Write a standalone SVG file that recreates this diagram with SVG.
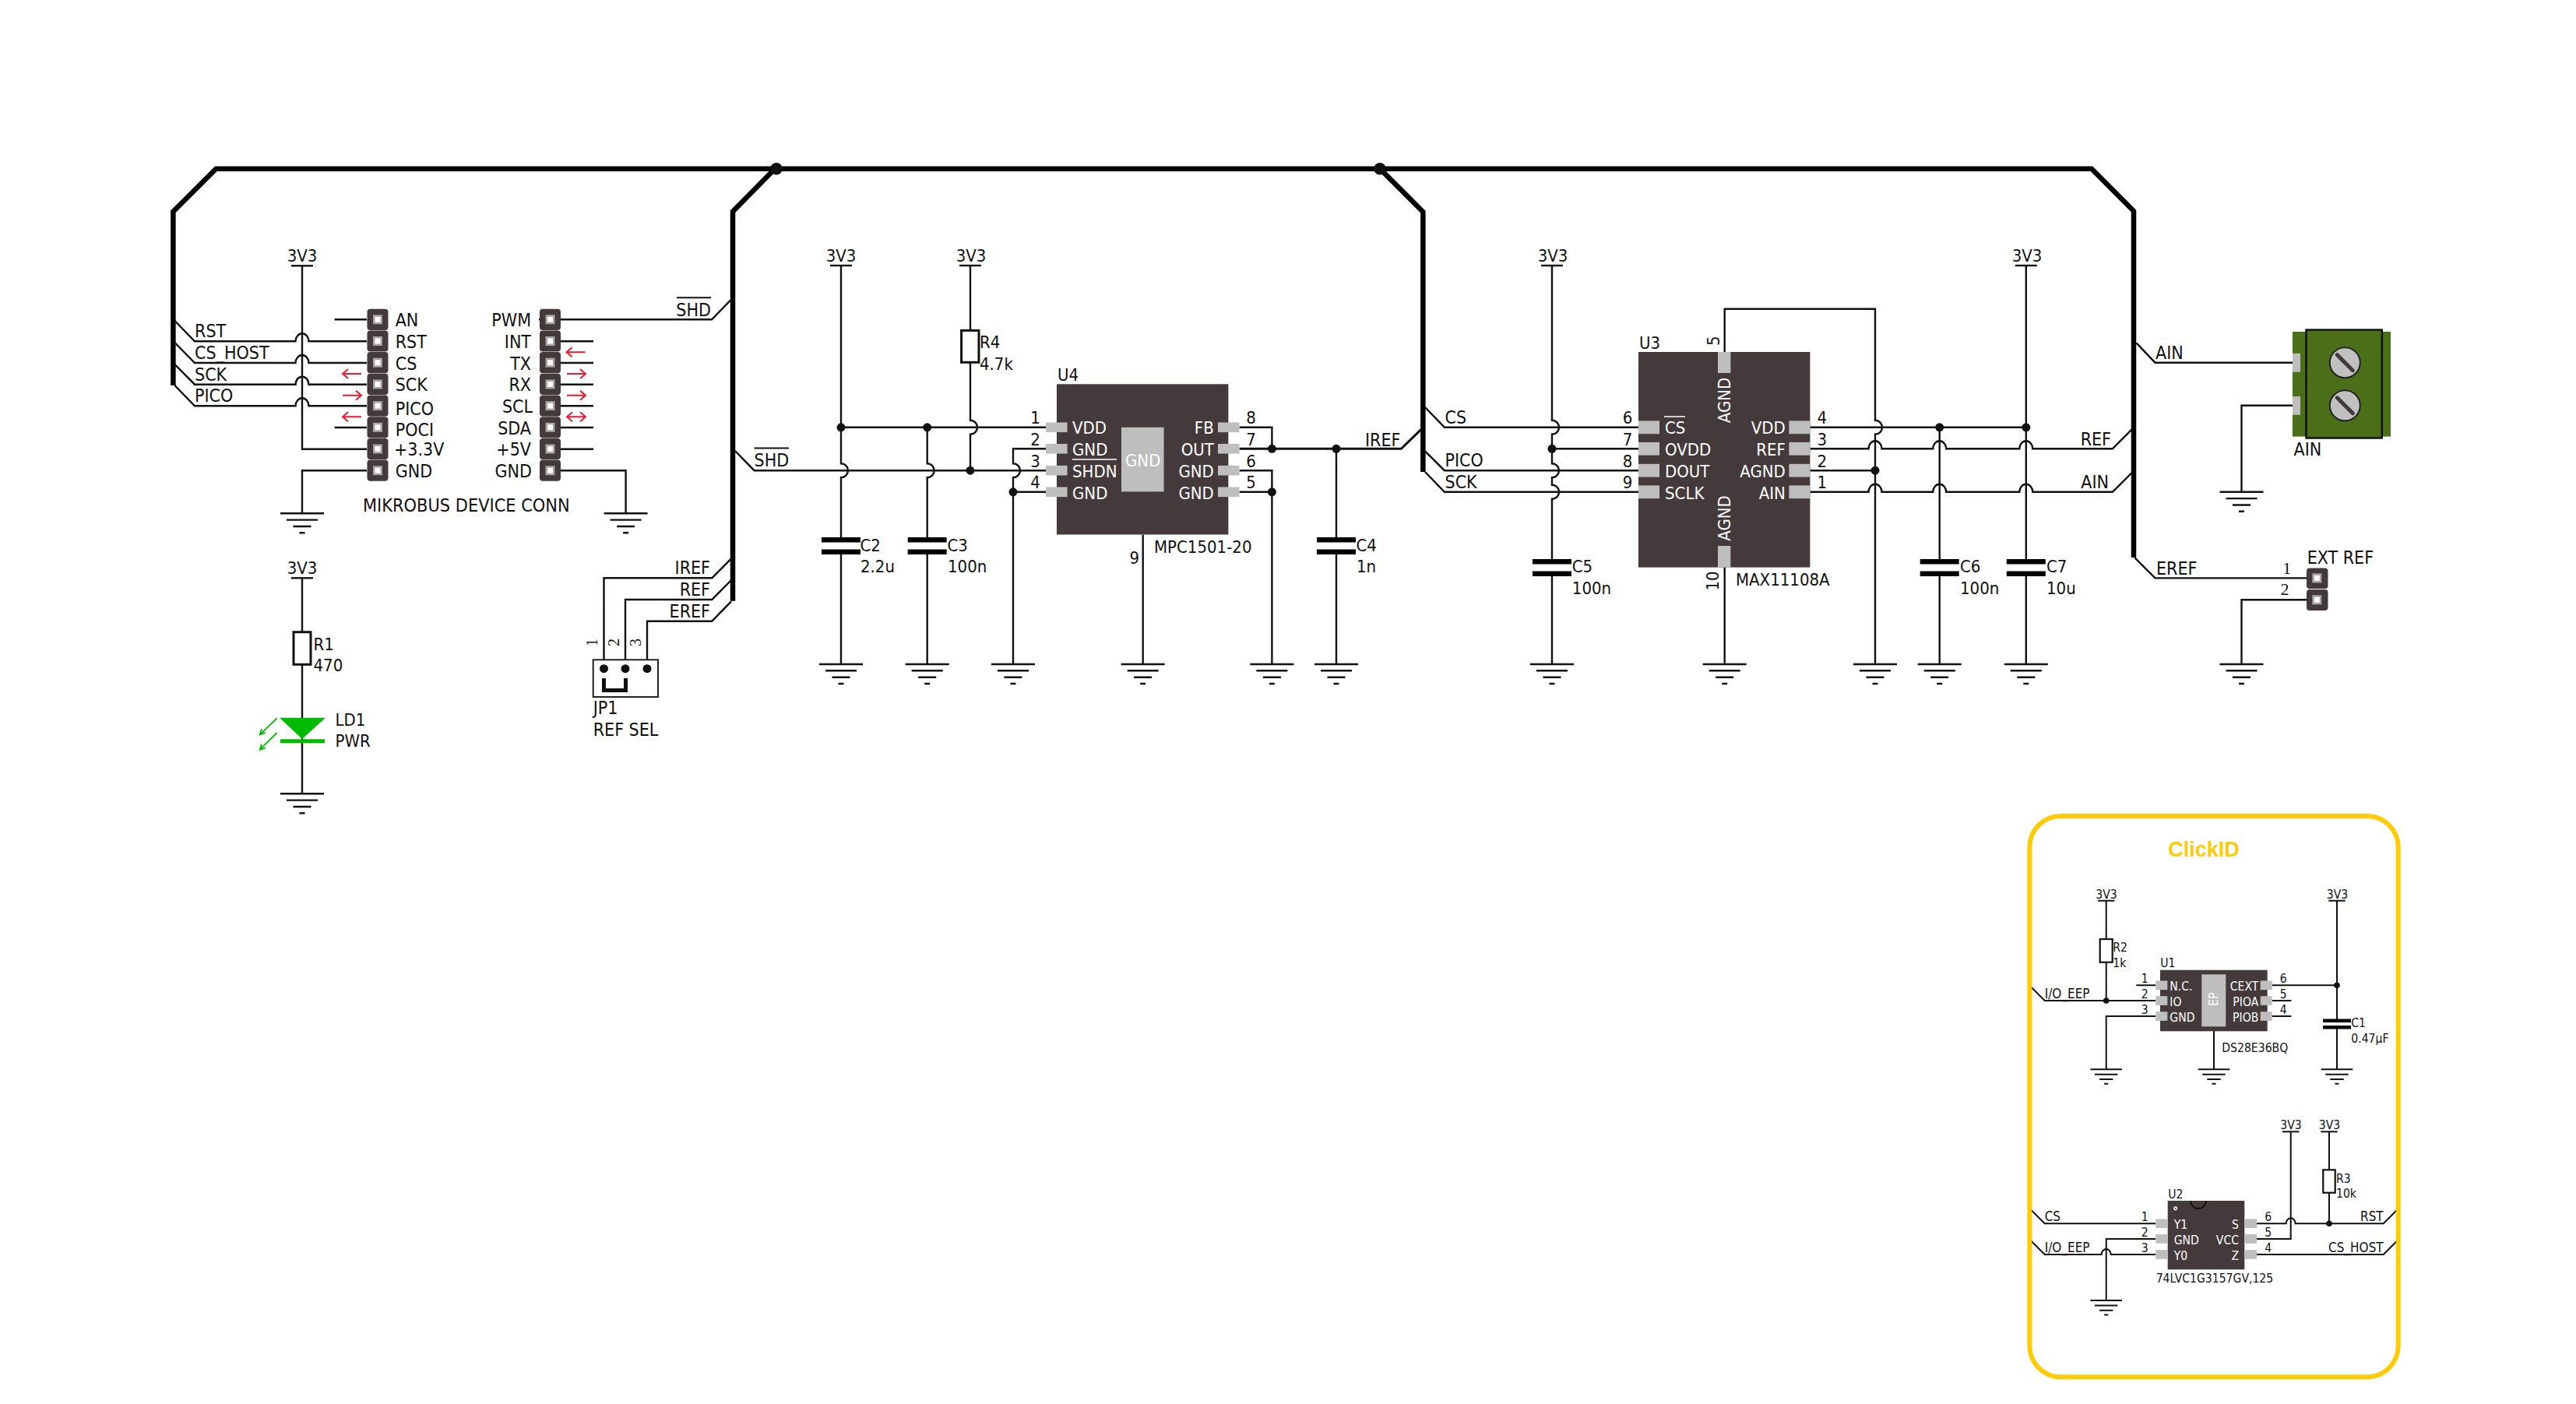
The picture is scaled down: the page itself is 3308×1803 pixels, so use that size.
<svg xmlns="http://www.w3.org/2000/svg" width="3308" height="1803" viewBox="0 0 3308 1803">
<style>
text{font-family:"DejaVu Sans Condensed","DejaVu Sans","Noto Sans",sans-serif;font-size:22px;fill:#111}
#mikrobus-left text,#mikrobus-right text,#net-labels text,#JP1 text,#EXT-REF text,#AIN-terminal text{font-size:23px}
#mikrobus-right #mb-title{font-size:23.300px}
#net-labels .s{font-size:17px}
.s{font-size:15.600px}
.w{fill:#fff}
.e{text-anchor:end}
.m{text-anchor:middle}
.n{font-family:"Liberation Serif",serif}
.l{fill:none;stroke:#111;stroke-width:2.4}
.k{fill:none;stroke:#111;stroke-width:2}
.b{fill:none;stroke:#000;stroke-width:6.5;stroke-linejoin:miter}
.a{fill:none;stroke:#ed1c2e;stroke-width:2}
.c{fill:#443a3b}
.p{fill:#bebebe}
.r{fill:#fff;stroke:#111;stroke-width:3}
.ck{font-family:"Liberation Sans",sans-serif;font-weight:bold;font-size:27px;fill:#ffcb05}
</style>
<defs>
<g id="gnd" class="l"><path d="M-28 0H28M-20 8.300H20M-11.500 16.700H11.500M-3.500 25H3.500"/></g>
<g id="gs" class="k"><path d="M-20.300 0H20.300M-14.700 6.500H14.700M-8.700 12.700H8.700M-2.500 18.500H2.500"/></g>
<path id="pw" class="l" d="M-14 0H14"/>
<path id="ps" class="k" d="M-10.700 0H10.700"/>
<circle id="j" r="5.500" fill="#111"/>
<circle id="js" r="3.800" fill="#111"/>
<g id="cap"><rect x="-25" y="-5" width="50" height="10" fill="#fff"/><rect x="-25" y="-11" width="50" height="6.500" fill="#000"/><rect x="-25" y="4.500" width="50" height="6.500" fill="#000"/></g>
<g id="caps"><rect x="-18" y="-4" width="36" height="8" fill="#fff"/><rect x="-18" y="-6.500" width="36" height="4.500" fill="#000"/><rect x="-18" y="2" width="36" height="4.500" fill="#000"/></g>
<g id="hp"><rect x="-13.500" y="-13.600" width="27" height="27.200" rx="4" class="c"/><rect x="-6" y="-6" width="12" height="12" fill="#a8a4a4"/><rect x="-3.500" y="-3.500" width="7" height="7" fill="#fff"/></g>
<path id="ar" class="a" d="M-12 0H12M-5 -6L-12 0L-5 6"/>
<path id="al" class="a" d="M-12 0H12M5 -6L12 0L5 6"/>
</defs>

<g id="connectors">
<g id="buses" class="b">
<path d="M222.400 495V271.700L277.500 216.700H2686L2740 271V716"/>
<path d="M995 216.700L941 271.700V771.700"/>
<path d="M1772 216.700L1827.400 272V606"/>
</g>
<use href="#j" x="997" y="216.700" transform="translate(997 216.700) scale(1.400) translate(-997 -216.700)"/>
<use href="#j" x="1772" y="216.700" transform="translate(1772 216.700) scale(1.400) translate(-1772 -216.700)"/>
<g class="l">
<path d="M224.500 412L250 438.300H379.500a8.500 10 0 0 1 17 0H471"/>
<path d="M224.500 440L250 466H379.500a8.500 10 0 0 1 17 0H471"/>
<path d="M224.500 468L250 493.700H379.500a8.500 10 0 0 1 17 0H471"/>
<path d="M224.500 495L250 521.300H379.500a8.500 10 0 0 1 17 0H471"/>
<path d="M429.600 410.300H471M429.600 549H471"/>
<path d="M388 341.300V576.700H471M471 604.300H388V659.300"/>
<path d="M692 410.300H914L938 385.700"/>
<path d="M720 438.300H762M720 466H762M720 493.700H762M720 521.300H762M720 549H762M720 576.700H762"/>
<path d="M720 604.300H803.600V659.300"/>
<path d="M388 742.300V1019.300"/>
<path d="M775.500 858V742.300H914.300L939 717.300M803 858V770H914.300L939 745M831 858V797.700H914.300L939 772.300"/>
<path d="M1080 341V595.200a9 9 0 0 1 0 18V853"/>
<path d="M1190.700 548.800V595.200a9 9 0 0 1 0 18V853"/>
<path d="M1080 548.800H1343"/>
<path d="M1246 341V539.800a9 9 0 0 1 0 18V604.200"/>
<path d="M944 579L968.500 604.200H1343"/>
<path d="M1343 576.300H1301V595.200a9 9 0 0 1 0 18V853M1301 631.800H1343"/>
<path d="M1467.700 686.500V853"/>
<path d="M1591.600 548.800H1633.400V576.300M1591.600 604.200H1633.400V853M1591.600 631.800H1633.400M1716 576.300V853"/>
<path d="M1591.600 576.300H1799.400L1825 551.400" stroke-width="3"/>
<path d="M1830 523L1855 548.800H2104M1830 579.400L1855 604.200H2104M1830 606L1855 631.800H2104M1993 576.300H2104"/>
<path d="M1993 341V539.800a9 9 0 0 1 0 18V595.200a9 9 0 0 1 0 18V622.800a9 9 0 0 1 0 18V853"/>
<path d="M2214.700 452V396.800H2408V539.800a9 9 0 0 1 0 18V853M2214.700 728.600V853"/>
<path d="M2324.400 548.800H2601.800M2324.400 604.200H2408"/>
<path d="M2324.400 576.300H2399.500a8.500 10 0 0 1 17 0H2482.200a8.500 10 0 0 1 17 0H2593.300a8.500 10 0 0 1 17 0H2712.800L2737.700 551.400"/>
<path d="M2324.400 631.800H2399.500a8.500 10 0 0 1 17 0H2482.200a8.500 10 0 0 1 17 0H2593.300a8.500 10 0 0 1 17 0H2712.800L2737.700 607"/>
<path d="M2490.700 548.800V853M2601.800 341V853"/>
<path d="M2743.400 440.400L2767.500 465.700H2944M2944 520.800H2878.500V631.800"/>
<path d="M2741.500 716.400L2767.500 742.400H2962M2962 770.300H2878.500V853"/>
</g>
<path d="M1467.700 631.400V686.500" fill="none" stroke="#bebebe" stroke-width="2.400"/>
<g class="k">
<path d="M2605.700 1265L2625.700 1285H2768.300M2704.700 1156.700V1285M2768.300 1265.300H2743.300M2768.300 1305H2704.700V1373.300M2843 1324V1373.300"/>
<path d="M2917.700 1265.300H3001M3001 1156.700V1373.300M2917.700 1285H2942.300M2917.700 1305H2942.300"/>
<path d="M2605.700 1551.300L2625.700 1571.300H2768.300"/>
<path d="M2605.700 1591L2625.700 1611H2698.700a6 7 0 0 1 12 0H2768.300M2768.300 1591H2704.700V1670"/>
<path d="M2898 1571.300H2935.700a6 7 0 0 1 12 0H3060.700L3080.700 1551.300M2941.700 1453.300V1591H2898M2991 1453.300V1571.300"/>
<path d="M2898 1611H3060.700L3080.700 1591"/>
</g>
<g id="junctions">
<use href="#j" x="1080" y="548.800"/><use href="#j" x="1190.700" y="548.800"/><use href="#j" x="1246" y="604.200"/><use href="#j" x="1301" y="631.800"/><use href="#j" x="1633.400" y="576.300"/><use href="#j" x="1633.400" y="631.800"/><use href="#j" x="1716" y="576.300"/><use href="#j" x="1993" y="576.300"/><use href="#j" x="2408" y="604.200"/><use href="#j" x="2490.700" y="548.800"/><use href="#j" x="2601.800" y="548.800"/>
<use href="#js" x="2704.700" y="1285"/><use href="#js" x="3001" y="1265.300"/><use href="#js" x="2991" y="1571.300"/>
</g>
<g id="net-labels">
<text x="250" y="433">RST</text><text x="250" y="461">CS_HOST</text><text x="250" y="488.700">SCK</text><text x="250" y="516">PICO</text>
<text x="913" y="406" class="e">SHD</text><path class="k" d="M869 382.300H913"/>
<text x="968.500" y="599">SHD</text><path class="k" d="M968.500 575.600H1013"/>
<text x="912" y="737.300" class="e">IREF</text><text x="912" y="765" class="e">REF</text><text x="912" y="792.700" class="e">EREF</text>
<text x="1753" y="573">IREF</text>
<text x="1855.500" y="543.800">CS</text><text x="1855.500" y="599">PICO</text><text x="1855.500" y="627">SCK</text>
<text x="2711" y="571.700" class="e">REF</text><text x="2708" y="627" class="e">AIN</text>
<text x="2768" y="460.700">AIN</text><text x="2769" y="738">EREF</text>
<text x="2625.700" y="1281.700" class="s">I/O_EEP</text><text x="2625.700" y="1568" class="s">CS</text><text x="2625.700" y="1608.300" class="s">I/O_EEP</text>
<text x="3060.700" y="1568" class="s e">RST</text><text x="3060.700" y="1608.300" class="s e">CS_HOST</text>
</g>
</g>

<g id="pwr-gnd">
<use href="#pw" x="388" y="341.300"/><text x="388" y="336" class="m">3V3</text>
<use href="#pw" x="388" y="742.300"/><text x="388" y="737" class="m">3V3</text>
<use href="#pw" x="1080" y="341"/><text x="1080" y="336" class="m">3V3</text>
<use href="#pw" x="1246" y="341"/><text x="1247" y="336" class="m">3V3</text>
<use href="#pw" x="1993" y="341"/><text x="1994" y="336" class="m">3V3</text>
<use href="#pw" x="2601.800" y="341"/><text x="2603" y="336" class="m">3V3</text>
<use href="#gnd" x="388" y="659.300"/><use href="#gnd" x="803.600" y="659.300"/><use href="#gnd" x="388" y="1019.300"/>
<use href="#gnd" x="1080" y="853"/><use href="#gnd" x="1190.700" y="853"/><use href="#gnd" x="1301" y="853"/><use href="#gnd" x="1467.700" y="853"/><use href="#gnd" x="1633.400" y="853"/><use href="#gnd" x="1716" y="853"/>
<use href="#gnd" x="1993" y="853"/><use href="#gnd" x="2214.700" y="853"/><use href="#gnd" x="2408" y="853"/><use href="#gnd" x="2490.700" y="853"/><use href="#gnd" x="2601.800" y="853"/>
<use href="#gnd" x="2878.500" y="631.800"/><use href="#gnd" x="2878.500" y="853"/>
<use href="#ps" x="2704.700" y="1156.700"/><text x="2705" y="1154" class="s m">3V3</text>
<use href="#ps" x="3001" y="1156.700"/><text x="3001.500" y="1154" class="s m">3V3</text>
<use href="#ps" x="2941.700" y="1453.300"/><text x="2942" y="1450" class="s m">3V3</text>
<use href="#ps" x="2991" y="1453.300"/><text x="2991.500" y="1450" class="s m">3V3</text>
<use href="#gs" x="2704.700" y="1373.300"/><use href="#gs" x="2843" y="1373.300"/><use href="#gs" x="3001" y="1373.300"/><use href="#gs" x="2704.700" y="1670"/>
</g>

<g id="mikrobus-left">
<use href="#hp" x="485" y="410.300"/><use href="#hp" x="485" y="438"/><use href="#hp" x="485" y="465.700"/><use href="#hp" x="485" y="493.400"/><use href="#hp" x="485" y="521.100"/><use href="#hp" x="485" y="548.800"/><use href="#hp" x="485" y="576.500"/><use href="#hp" x="485" y="604.200"/>
<text x="507.700" y="419.300">AN</text><text x="507.700" y="447">RST</text><text x="507.700" y="474.700">CS</text><text x="507.700" y="502">SCK</text><text x="507.700" y="532.700">PICO</text><text x="507.700" y="560.300">POCI</text><text x="506" y="585">+3.3V</text><text x="507.700" y="612.700">GND</text>
<use href="#ar" x="452" y="480"/><use href="#al" x="452" y="507.700"/><use href="#ar" x="452" y="535.300"/>
</g>
<g id="mikrobus-right">
<use href="#hp" x="706.500" y="410.300"/><use href="#hp" x="706.500" y="438"/><use href="#hp" x="706.500" y="465.700"/><use href="#hp" x="706.500" y="493.400"/><use href="#hp" x="706.500" y="521.100"/><use href="#hp" x="706.500" y="548.800"/><use href="#hp" x="706.500" y="576.500"/><use href="#hp" x="706.500" y="604.200"/>
<text x="682" y="419.300" class="e">PWM</text><text x="682" y="447" class="e">INT</text><text x="682" y="474.700" class="e">TX</text><text x="682" y="502" class="e">RX</text><text x="684" y="530" class="e">SCL</text><text x="682" y="557.700" class="e">SDA</text><text x="682" y="585" class="e">+5V</text><text x="683" y="612.700" class="e">GND</text>
<use href="#ar" x="739.500" y="452.300"/><use href="#al" x="740" y="480"/><use href="#al" x="740" y="507.700"/>
<path class="a" d="M728 535.300H752M735 529.300L728 535.300L735 541.300M745 529.300L752 535.300L745 541.300"/>
<text id="mb-title" x="466" y="657">MIKROBUS DEVICE CONN</text>
</g>

<g id="R1"><rect class="r" x="377" y="811.700" width="22" height="41.600"/><text x="402.500" y="834.700">R1</text><text x="402.500" y="861.700">470</text></g>
<g id="LD1">
<path d="M359 921.700H418L388 949Z" fill="#00bb00"/><rect x="360" y="949.300" width="57" height="5" fill="#00bb00"/>
<path d="M355.600 922.300L333.700 943.300M341 941L333.700 943.300L336 936M355.600 941L333.700 962.700M341 960.500L333.700 962.700L336 955.500" fill="none" stroke="#00bb00" stroke-width="1.800"/>
<text x="430.600" y="931.700">LD1</text><text x="430.600" y="959">PWR</text>
</g>
<g id="JP1">
<rect x="761.700" y="847.300" width="83.300" height="47.700" fill="#fff" stroke="#222" stroke-width="2"/>
<ellipse cx="775.500" cy="858.700" rx="5.500" ry="5.500" fill="#111"/><ellipse cx="803" cy="858.700" rx="5.500" ry="5.500" fill="#111"/><ellipse cx="831" cy="858.700" rx="5.500" ry="5.500" fill="#111"/>
<path d="M775.500 871V886.500H803.500V871" fill="none" stroke="#111" stroke-width="5"/>
<text class="n m" transform="translate(767 825) rotate(-90)" style="font-size:20px">1</text><text class="n m" style="font-size:20px" transform="translate(795 825) rotate(-90)">2</text><text class="n m" style="font-size:20px" transform="translate(823 825) rotate(-90)">3</text>
<text x="761.700" y="917">JP1</text><text x="761.700" y="945">REF SEL</text>
</g>
<g id="C2"><use href="#cap" x="1080" y="701"/><text x="1104.500" y="707.600">C2</text><text x="1105" y="735">2.2u</text></g>
<g id="C3"><use href="#cap" x="1190.700" y="701"/><text x="1216.500" y="707.600">C3</text><text x="1217" y="735">100n</text></g>
<g id="R4"><rect class="r" x="1234.600" y="424.400" width="22.400" height="40.900"/><text x="1258" y="447.300">R4</text><text x="1258" y="475">4.7k</text></g>
<g id="C4"><use href="#cap" x="1716" y="701"/><text x="1741.500" y="707.600">C4</text><text x="1742" y="735">1n</text></g>
<g id="U4">
<rect class="c" x="1357" y="493.300" width="220.400" height="193.200"/>
<rect class="p" x="1343" y="542.500" width="27.600" height="12.600"/><rect class="p" x="1343" y="570" width="27.600" height="12.600"/><rect class="p" x="1343" y="597.900" width="27.600" height="12.600"/><rect class="p" x="1343" y="625.500" width="27.600" height="12.600"/>
<rect class="p" x="1564" y="542.500" width="27.600" height="12.600"/><rect class="p" x="1564" y="570" width="27.600" height="12.600"/><rect class="p" x="1564" y="597.900" width="27.600" height="12.600"/><rect class="p" x="1564" y="625.500" width="27.600" height="12.600"/>
<rect class="p" x="1440" y="548.800" width="54.600" height="82.600"/>
<text x="1467.700" y="599" class="w m">GND</text>
<text x="1377" y="557" class="w">VDD</text><text x="1377" y="585" class="w">GND</text><text x="1377" y="613" class="w">SHDN</text><text x="1377" y="640.600" class="w">GND</text>
<path d="M1377 590H1434" stroke="#fff" stroke-width="1.500"/>
<text x="1558.800" y="557" class="w e">FB</text><text x="1558.800" y="585" class="w e">OUT</text><text x="1558.800" y="613" class="w e">GND</text><text x="1558.800" y="640.600" class="w e">GND</text>
<text x="1329.500" y="544" class="m">1</text><text x="1329.500" y="571.700" class="m">2</text><text x="1329.500" y="599.700" class="m">3</text><text x="1329.500" y="627" class="m">4</text>
<text x="1606.500" y="544" class="m">8</text><text x="1606.500" y="571.700" class="m">7</text><text x="1606.500" y="599.700" class="m">6</text><text x="1606.500" y="627" class="m">5</text>
<text x="1456.700" y="724" class="m">9</text>
<text x="1358" y="488.700">U4</text><text x="1482" y="710">MPC1501-20</text>
</g>
<g id="C5"><use href="#cap" x="1993" y="729"/><text x="2018.800" y="735">C5</text><text x="2018.800" y="763">100n</text></g>
<g id="U3">
<rect class="c" x="2104" y="452" width="220.400" height="276.600"/>
<rect class="p" x="2104" y="540.400" width="27" height="16.800"/><rect class="p" x="2104" y="567.900" width="27" height="16.800"/><rect class="p" x="2104" y="595.800" width="27" height="16.800"/><rect class="p" x="2104" y="623.400" width="27" height="16.800"/>
<rect class="p" x="2297.400" y="540.400" width="27" height="16.800"/><rect class="p" x="2297.400" y="567.900" width="27" height="16.800"/><rect class="p" x="2297.400" y="595.800" width="27" height="16.800"/><rect class="p" x="2297.400" y="623.400" width="27" height="16.800"/>
<rect class="p" x="2206" y="452" width="16.400" height="27"/><rect class="p" x="2206" y="701" width="16.400" height="27.600"/>
<text class="w m" transform="translate(2221.500 514) rotate(-90)">AGND</text><text class="w m" transform="translate(2221.500 665.500) rotate(-90)">AGND</text>
<text x="2138" y="557" class="w">CS</text><path d="M2137 535H2164" stroke="#fff" stroke-width="1.500"/><text x="2138" y="585" class="w">OVDD</text><text x="2138" y="613" class="w">DOUT</text><text x="2138" y="640.600" class="w">SCLK</text>
<text x="2292.800" y="557" class="w e">VDD</text><text x="2292.800" y="585" class="w e">REF</text><text x="2292.800" y="613" class="w e">AGND</text><text x="2292.800" y="640.600" class="w e">AIN</text>
<text x="2090" y="544" class="m">6</text><text x="2090" y="571.700" class="m">7</text><text x="2090" y="599.700" class="m">8</text><text x="2090" y="627" class="m">9</text>
<text x="2339.700" y="544" class="m">4</text><text x="2339.700" y="571.700" class="m">3</text><text x="2339.700" y="599.700" class="m">2</text><text x="2339.700" y="627" class="m">1</text>
<text class="m" transform="translate(2208 437.800) rotate(-90)">5</text><text class="m" transform="translate(2207 746) rotate(-90)">10</text>
<text x="2105" y="447.700">U3</text><text x="2229" y="751.600">MAX11108A</text>
</g>
<g id="C6"><use href="#cap" x="2490.700" y="729"/><text x="2517" y="735">C6</text><text x="2517" y="763">100n</text></g>
<g id="C7"><use href="#cap" x="2601.800" y="729"/><text x="2628" y="735">C7</text><text x="2628" y="763">10u</text></g>
<g id="AIN-terminal">
<rect x="2944" y="426" width="126" height="134.600" fill="#4b6e18"/>
<rect x="2961.500" y="423.600" width="97.300" height="138.900" fill="#4b6e18" stroke="#111" stroke-width="2.500"/>
<rect class="p" x="2944" y="453.800" width="10" height="23.800"/><rect class="p" x="2944" y="509" width="10" height="23.800"/>
<circle cx="3011.300" cy="465.700" r="19.500" fill="#c0c0c0" stroke="#222" stroke-width="2"/><circle cx="3011.300" cy="520.800" r="19.500" fill="#c0c0c0" stroke="#222" stroke-width="2"/>
<path d="M3001.300 455.700L3021.300 475.700M3001.300 510.800L3021.300 530.800" stroke="#443a3b" stroke-width="5" stroke-linecap="round"/>
<text x="2945.500" y="585">AIN</text>
</g>
<g id="EXT-REF">
<rect class="c" x="2962" y="729.400" width="27.500" height="26.600" rx="4"/><rect class="c" x="2962" y="757" width="27.500" height="27" rx="4"/>
<rect x="2969.300" y="736.400" width="12" height="12" fill="#a8a4a4"/><rect x="2971.800" y="738.900" width="7" height="7" fill="#fff"/>
<rect x="2969.300" y="764.300" width="12" height="12" fill="#a8a4a4"/><rect x="2971.800" y="766.800" width="7" height="7" fill="#fff"/>
<text x="2962.700" y="724">EXT REF</text>
<text x="2936.700" y="737" class="n m" style="font-size:22px">1</text><text x="2934" y="764" class="n m" style="font-size:22px">2</text>
</g>

<g id="ClickID">
<rect x="2606.300" y="1048" width="473.400" height="720.300" rx="40" fill="none" stroke="#ffcb05" stroke-width="6"/>
<text x="2830" y="1100" class="ck m">ClickID</text>
</g>
<g id="R2"><rect x="2696.700" y="1206" width="16" height="29.700" fill="#fff" stroke="#111" stroke-width="2.200"/><text x="2713.300" y="1222" class="s">R2</text><text x="2713.300" y="1242" class="s">1k</text></g>
<g id="U1">
<rect class="c" x="2774" y="1245.700" width="137.700" height="78.600"/>
<rect class="p" x="2768.300" y="1259.400" width="15" height="11.700"/><rect class="p" x="2768.300" y="1279.200" width="15" height="11.700"/><rect class="p" x="2768.300" y="1299.200" width="15" height="11.700"/>
<rect class="p" x="2902.700" y="1259.400" width="15" height="11.700"/><rect class="p" x="2902.700" y="1279.200" width="15" height="11.700"/><rect class="p" x="2902.700" y="1299.200" width="15" height="11.700"/>
<rect class="p" x="2827.300" y="1251.300" width="31" height="67"/>
<text class="s w m" transform="translate(2848 1283) rotate(-90)">EP</text>
<text x="2786.300" y="1271.700" class="s w">N.C.</text><text x="2786.300" y="1291.700" class="s w">IO</text><text x="2786.300" y="1311.700" class="s w">GND</text>
<text x="2900.300" y="1271.700" class="s w e">CEXT</text><text x="2900.300" y="1291.700" class="s w e">PIOA</text><text x="2900.300" y="1311.700" class="s w e">PIOB</text>
<text x="2754.300" y="1262.300" class="s m">1</text><text x="2754.300" y="1282.300" class="s m">2</text><text x="2754.300" y="1301.700" class="s m">3</text>
<text x="2932.300" y="1262.300" class="s m">6</text><text x="2932.300" y="1282.300" class="s m">5</text><text x="2932.300" y="1301.700" class="s m">4</text>
<text x="2774.300" y="1242" class="s">U1</text><text x="2853.300" y="1350.700" class="s">DS28E36BQ</text>
</g>
<g id="C1"><use href="#caps" x="3001" y="1315"/><text x="3019.300" y="1319.300" class="s">C1</text><text x="3019.300" y="1339" class="s">0.47µF</text></g>
<g id="U2">
<rect class="c" x="2783.700" y="1542" width="98.600" height="88.300"/>
<rect class="p" x="2768.300" y="1565.400" width="15.400" height="11.700"/><rect class="p" x="2768.300" y="1585.100" width="15.400" height="11.700"/><rect class="p" x="2768.300" y="1605.100" width="15.400" height="11.700"/>
<rect class="p" x="2882.300" y="1565.400" width="15.700" height="11.700"/><rect class="p" x="2882.300" y="1585.100" width="15.700" height="11.700"/><rect class="p" x="2882.300" y="1605.100" width="15.700" height="11.700"/>
<circle cx="2793.700" cy="1551.700" r="1.800" fill="#443a3b" stroke="#fff" stroke-width="1.500"/>
<path d="M2813 1542a10 10 0 0 0 20 0" fill="none" stroke="#111" stroke-width="1.800"/>
<text x="2791.700" y="1578.300" class="s w">Y1</text><text x="2791.700" y="1598.300" class="s w">GND</text><text x="2791.700" y="1617.700" class="s w">Y0</text>
<text x="2875" y="1578.300" class="s w e">S</text><text x="2875" y="1598.300" class="s w e">VCC</text><text x="2875" y="1617.700" class="s w e">Z</text>
<text x="2754.300" y="1568" class="s m">1</text><text x="2754.300" y="1588" class="s m">2</text><text x="2754.300" y="1607.700" class="s m">3</text>
<text x="2912.700" y="1568" class="s m">6</text><text x="2912.700" y="1588" class="s m">5</text><text x="2912.700" y="1607.700" class="s m">4</text>
<text x="2784.300" y="1539" class="s">U2</text><text x="2768.700" y="1646.700" class="s">74LVC1G3157GV,125</text>
</g>
<g id="R3"><rect x="2983.300" y="1502.300" width="15.400" height="29.400" fill="#fff" stroke="#111" stroke-width="2.200"/><text x="3000" y="1518.700" class="s">R3</text><text x="3000" y="1538" class="s">10k</text></g>
</svg>
